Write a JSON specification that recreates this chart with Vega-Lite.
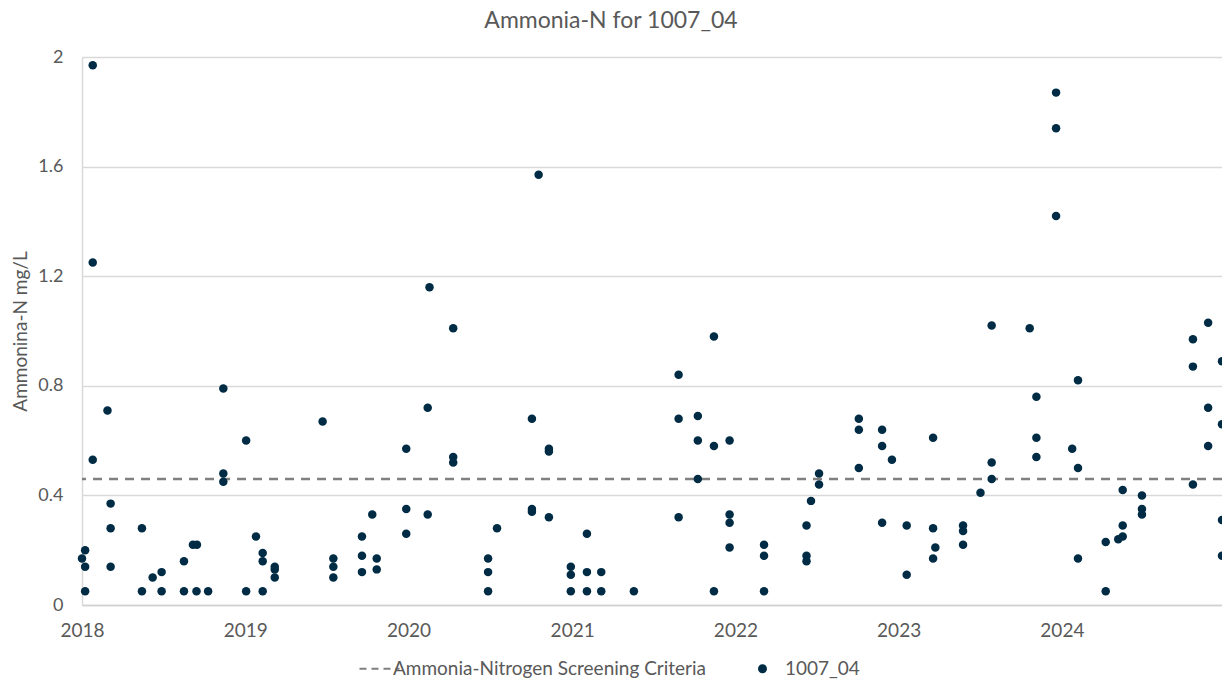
{
  "$schema": "https://vega.github.io/schema/vega-lite/v6.json",
  "width": 1140,
  "height": 548,
  "autosize": {"type": "none"},
  "padding": {"left": 82, "top": 57, "right": 0, "bottom": 77},
  "background": "white",
  "config": {"font": "Lato", "view": {"stroke": null}},
  "title": {"text": "Ammonia-N for 1007_04", "fontSize": 23, "fontWeight": "normal", "color": "#595959", "frame": "group", "anchor": "middle", "dx": -41, "offset": 15},
  "datasets": {
    "criteria": [{"series": "Ammonia-Nitrogen Screening Criteria", "value": 0.46}],
    "obs": [
      {"date": "2018-01-01", "value": 0.17, "series": "1007_04"},
      {"date": "2018-01-08", "value": 0.20, "series": "1007_04"},
      {"date": "2018-01-08", "value": 0.14, "series": "1007_04"},
      {"date": "2018-01-08", "value": 0.05, "series": "1007_04"},
      {"date": "2018-01-25", "value": 1.97, "series": "1007_04"},
      {"date": "2018-01-25", "value": 1.25, "series": "1007_04"},
      {"date": "2018-01-25", "value": 0.53, "series": "1007_04"},
      {"date": "2018-02-27", "value": 0.71, "series": "1007_04"},
      {"date": "2018-03-06", "value": 0.37, "series": "1007_04"},
      {"date": "2018-03-06", "value": 0.28, "series": "1007_04"},
      {"date": "2018-03-06", "value": 0.14, "series": "1007_04"},
      {"date": "2018-05-15", "value": 0.28, "series": "1007_04"},
      {"date": "2018-05-15", "value": 0.05, "series": "1007_04"},
      {"date": "2018-06-08", "value": 0.10, "series": "1007_04"},
      {"date": "2018-06-28", "value": 0.12, "series": "1007_04"},
      {"date": "2018-06-28", "value": 0.05, "series": "1007_04"},
      {"date": "2018-08-17", "value": 0.16, "series": "1007_04"},
      {"date": "2018-08-17", "value": 0.05, "series": "1007_04"},
      {"date": "2018-09-06", "value": 0.22, "series": "1007_04"},
      {"date": "2018-09-14", "value": 0.05, "series": "1007_04"},
      {"date": "2018-09-15", "value": 0.22, "series": "1007_04"},
      {"date": "2018-10-10", "value": 0.05, "series": "1007_04"},
      {"date": "2018-11-13", "value": 0.79, "series": "1007_04"},
      {"date": "2018-11-13", "value": 0.48, "series": "1007_04"},
      {"date": "2018-11-13", "value": 0.45, "series": "1007_04"},
      {"date": "2019-01-03", "value": 0.60, "series": "1007_04"},
      {"date": "2019-01-03", "value": 0.05, "series": "1007_04"},
      {"date": "2019-01-25", "value": 0.25, "series": "1007_04"},
      {"date": "2019-02-09", "value": 0.19, "series": "1007_04"},
      {"date": "2019-02-09", "value": 0.16, "series": "1007_04"},
      {"date": "2019-02-09", "value": 0.05, "series": "1007_04"},
      {"date": "2019-03-08", "value": 0.14, "series": "1007_04"},
      {"date": "2019-03-08", "value": 0.13, "series": "1007_04"},
      {"date": "2019-03-08", "value": 0.10, "series": "1007_04"},
      {"date": "2019-06-23", "value": 0.67, "series": "1007_04"},
      {"date": "2019-07-17", "value": 0.17, "series": "1007_04"},
      {"date": "2019-07-17", "value": 0.14, "series": "1007_04"},
      {"date": "2019-07-17", "value": 0.10, "series": "1007_04"},
      {"date": "2019-09-19", "value": 0.25, "series": "1007_04"},
      {"date": "2019-09-19", "value": 0.18, "series": "1007_04"},
      {"date": "2019-09-19", "value": 0.12, "series": "1007_04"},
      {"date": "2019-10-12", "value": 0.33, "series": "1007_04"},
      {"date": "2019-10-22", "value": 0.17, "series": "1007_04"},
      {"date": "2019-10-22", "value": 0.13, "series": "1007_04"},
      {"date": "2019-12-27", "value": 0.57, "series": "1007_04"},
      {"date": "2019-12-27", "value": 0.35, "series": "1007_04"},
      {"date": "2019-12-27", "value": 0.26, "series": "1007_04"},
      {"date": "2020-02-13", "value": 0.72, "series": "1007_04"},
      {"date": "2020-02-13", "value": 0.33, "series": "1007_04"},
      {"date": "2020-02-17", "value": 1.16, "series": "1007_04"},
      {"date": "2020-04-10", "value": 1.01, "series": "1007_04"},
      {"date": "2020-04-10", "value": 0.54, "series": "1007_04"},
      {"date": "2020-04-10", "value": 0.52, "series": "1007_04"},
      {"date": "2020-06-27", "value": 0.17, "series": "1007_04"},
      {"date": "2020-06-27", "value": 0.12, "series": "1007_04"},
      {"date": "2020-06-27", "value": 0.05, "series": "1007_04"},
      {"date": "2020-07-17", "value": 0.28, "series": "1007_04"},
      {"date": "2020-10-03", "value": 0.68, "series": "1007_04"},
      {"date": "2020-10-03", "value": 0.35, "series": "1007_04"},
      {"date": "2020-10-03", "value": 0.34, "series": "1007_04"},
      {"date": "2020-10-18", "value": 1.57, "series": "1007_04"},
      {"date": "2020-11-10", "value": 0.57, "series": "1007_04"},
      {"date": "2020-11-10", "value": 0.56, "series": "1007_04"},
      {"date": "2020-11-10", "value": 0.32, "series": "1007_04"},
      {"date": "2020-12-29", "value": 0.14, "series": "1007_04"},
      {"date": "2020-12-29", "value": 0.11, "series": "1007_04"},
      {"date": "2020-12-29", "value": 0.05, "series": "1007_04"},
      {"date": "2021-02-03", "value": 0.26, "series": "1007_04"},
      {"date": "2021-02-03", "value": 0.12, "series": "1007_04"},
      {"date": "2021-02-03", "value": 0.05, "series": "1007_04"},
      {"date": "2021-03-07", "value": 0.12, "series": "1007_04"},
      {"date": "2021-03-07", "value": 0.05, "series": "1007_04"},
      {"date": "2021-05-19", "value": 0.05, "series": "1007_04"},
      {"date": "2021-08-27", "value": 0.84, "series": "1007_04"},
      {"date": "2021-08-27", "value": 0.68, "series": "1007_04"},
      {"date": "2021-08-27", "value": 0.32, "series": "1007_04"},
      {"date": "2021-10-09", "value": 0.69, "series": "1007_04"},
      {"date": "2021-10-09", "value": 0.60, "series": "1007_04"},
      {"date": "2021-10-09", "value": 0.46, "series": "1007_04"},
      {"date": "2021-11-14", "value": 0.98, "series": "1007_04"},
      {"date": "2021-11-14", "value": 0.58, "series": "1007_04"},
      {"date": "2021-11-14", "value": 0.05, "series": "1007_04"},
      {"date": "2021-12-19", "value": 0.60, "series": "1007_04"},
      {"date": "2021-12-19", "value": 0.33, "series": "1007_04"},
      {"date": "2021-12-19", "value": 0.30, "series": "1007_04"},
      {"date": "2021-12-19", "value": 0.21, "series": "1007_04"},
      {"date": "2022-03-06", "value": 0.22, "series": "1007_04"},
      {"date": "2022-03-06", "value": 0.18, "series": "1007_04"},
      {"date": "2022-03-06", "value": 0.05, "series": "1007_04"},
      {"date": "2022-06-09", "value": 0.29, "series": "1007_04"},
      {"date": "2022-06-09", "value": 0.18, "series": "1007_04"},
      {"date": "2022-06-09", "value": 0.16, "series": "1007_04"},
      {"date": "2022-06-19", "value": 0.38, "series": "1007_04"},
      {"date": "2022-07-07", "value": 0.48, "series": "1007_04"},
      {"date": "2022-07-07", "value": 0.44, "series": "1007_04"},
      {"date": "2022-10-04", "value": 0.68, "series": "1007_04"},
      {"date": "2022-10-04", "value": 0.64, "series": "1007_04"},
      {"date": "2022-10-04", "value": 0.50, "series": "1007_04"},
      {"date": "2022-11-25", "value": 0.64, "series": "1007_04"},
      {"date": "2022-11-25", "value": 0.58, "series": "1007_04"},
      {"date": "2022-11-25", "value": 0.30, "series": "1007_04"},
      {"date": "2022-12-17", "value": 0.53, "series": "1007_04"},
      {"date": "2023-01-19", "value": 0.29, "series": "1007_04"},
      {"date": "2023-01-19", "value": 0.11, "series": "1007_04"},
      {"date": "2023-03-19", "value": 0.61, "series": "1007_04"},
      {"date": "2023-03-19", "value": 0.28, "series": "1007_04"},
      {"date": "2023-03-19", "value": 0.17, "series": "1007_04"},
      {"date": "2023-03-24", "value": 0.21, "series": "1007_04"},
      {"date": "2023-05-25", "value": 0.29, "series": "1007_04"},
      {"date": "2023-05-25", "value": 0.27, "series": "1007_04"},
      {"date": "2023-05-25", "value": 0.22, "series": "1007_04"},
      {"date": "2023-07-03", "value": 0.41, "series": "1007_04"},
      {"date": "2023-07-28", "value": 1.02, "series": "1007_04"},
      {"date": "2023-07-28", "value": 0.52, "series": "1007_04"},
      {"date": "2023-07-28", "value": 0.46, "series": "1007_04"},
      {"date": "2023-10-21", "value": 1.01, "series": "1007_04"},
      {"date": "2023-11-05", "value": 0.76, "series": "1007_04"},
      {"date": "2023-11-05", "value": 0.61, "series": "1007_04"},
      {"date": "2023-11-05", "value": 0.54, "series": "1007_04"},
      {"date": "2023-12-19", "value": 1.87, "series": "1007_04"},
      {"date": "2023-12-19", "value": 1.74, "series": "1007_04"},
      {"date": "2023-12-19", "value": 1.42, "series": "1007_04"},
      {"date": "2024-01-24", "value": 0.57, "series": "1007_04"},
      {"date": "2024-02-06", "value": 0.82, "series": "1007_04"},
      {"date": "2024-02-06", "value": 0.50, "series": "1007_04"},
      {"date": "2024-02-06", "value": 0.17, "series": "1007_04"},
      {"date": "2024-04-08", "value": 0.23, "series": "1007_04"},
      {"date": "2024-04-08", "value": 0.05, "series": "1007_04"},
      {"date": "2024-05-06", "value": 0.24, "series": "1007_04"},
      {"date": "2024-05-16", "value": 0.25, "series": "1007_04"},
      {"date": "2024-05-16", "value": 0.29, "series": "1007_04"},
      {"date": "2024-05-16", "value": 0.42, "series": "1007_04"},
      {"date": "2024-06-28", "value": 0.40, "series": "1007_04"},
      {"date": "2024-06-28", "value": 0.35, "series": "1007_04"},
      {"date": "2024-06-28", "value": 0.33, "series": "1007_04"},
      {"date": "2024-10-20", "value": 0.97, "series": "1007_04"},
      {"date": "2024-10-20", "value": 0.87, "series": "1007_04"},
      {"date": "2024-10-20", "value": 0.44, "series": "1007_04"},
      {"date": "2024-11-23", "value": 1.03, "series": "1007_04"},
      {"date": "2024-11-23", "value": 0.72, "series": "1007_04"},
      {"date": "2024-11-23", "value": 0.58, "series": "1007_04"},
      {"date": "2024-12-24", "value": 0.89, "series": "1007_04"},
      {"date": "2024-12-24", "value": 0.66, "series": "1007_04"},
      {"date": "2024-12-24", "value": 0.31, "series": "1007_04"},
      {"date": "2024-12-24", "value": 0.18, "series": "1007_04"}
    ]
  },
  "encoding": {
    "y": {
      "field": "value", "type": "quantitative",
      "scale": {"domain": [0, 2], "nice": false, "zero": true},
      "axis": {
        "values": [0, 0.4, 0.8, 1.2, 1.6, 2], "format": "~g",
        "grid": true, "gridColor": "#d9d9d9", "gridWidth": 1.5,
        "domain": true, "domainColor": "#d9d9d9", "domainWidth": 1.5,
        "ticks": false, "labelFontSize": 18, "labelColor": "#595959", "labelPadding": 19,
        "title": "Ammonina-N mg/L", "titleFontSize": 19, "titleFontWeight": "normal", "titleColor": "#595959", "titlePadding": 7
      }
    },
    "color": {
      "field": "series", "type": "nominal",
      "scale": {"domain": ["Ammonia-Nitrogen Screening Criteria", "1007_04"], "range": ["#808080", "#002B45"]},
      "legend": {
        "orient": "none", "legendX": 288, "legendY": 602, "direction": "horizontal", "title": null, "padding": 0,
        "labelFontSize": 19, "labelColor": "#595959", "labelOffset": 4, "columnPadding": 52, "labelLimit": 0,
        "symbolSize": 1600, "symbolType": "stroke", "symbolStrokeWidth": 2,
        "encode": {
          "symbols": {
            "update": {
              "shape": {"signal": "datum.value === '1007_04' ? 'M -0.675,0 A 0.225,0.225 0 1,0 -0.225,0 A 0.225,0.225 0 1,0 -0.675,0 Z' : 'stroke'"},
              "size": {"value": 1600},
              "strokeDash": {"signal": "datum.value === '1007_04' ? [1, 0] : [7, 5]"},
              "fill": {"signal": "datum.value === '1007_04' ? '#002B45' : 'transparent'"},
              "stroke": {"signal": "datum.value === '1007_04' ? '#002B45' : '#808080'"},
              "strokeWidth": {"signal": "datum.value === '1007_04' ? 0 : 2"},
              "opacity": {"value": 1}
            }
          }
        }
      }
    }
  },
  "layer": [
    {
      "data": {"name": "criteria"},
      "mark": {"type": "rule", "strokeDash": [9, 7], "strokeWidth": 2.5}
    },
    {
      "data": {"name": "obs"},
      "mark": {"type": "circle", "size": 72, "opacity": 1},
      "encoding": {
        "x": {
          "field": "date", "type": "temporal",
          "scale": {"type": "utc", "domain": [{"year": 2018, "month": 1, "date": 1, "utc": true}, {"year": 2024, "month": 12, "date": 24, "utc": true}], "nice": false},
          "axis": {
            "format": "%Y", "tickCount": {"interval": "year", "step": 1},
            "grid": false, "ticks": false, "domainColor": "#d0d0d0", "domainWidth": 1.5,
            "labelFontSize": 19, "labelColor": "#595959", "labelPadding": 16,
            "labelFlush": false, "labelOverlap": false, "labelBound": false, "title": null
          }
        }
      }
    }
  ]
}
